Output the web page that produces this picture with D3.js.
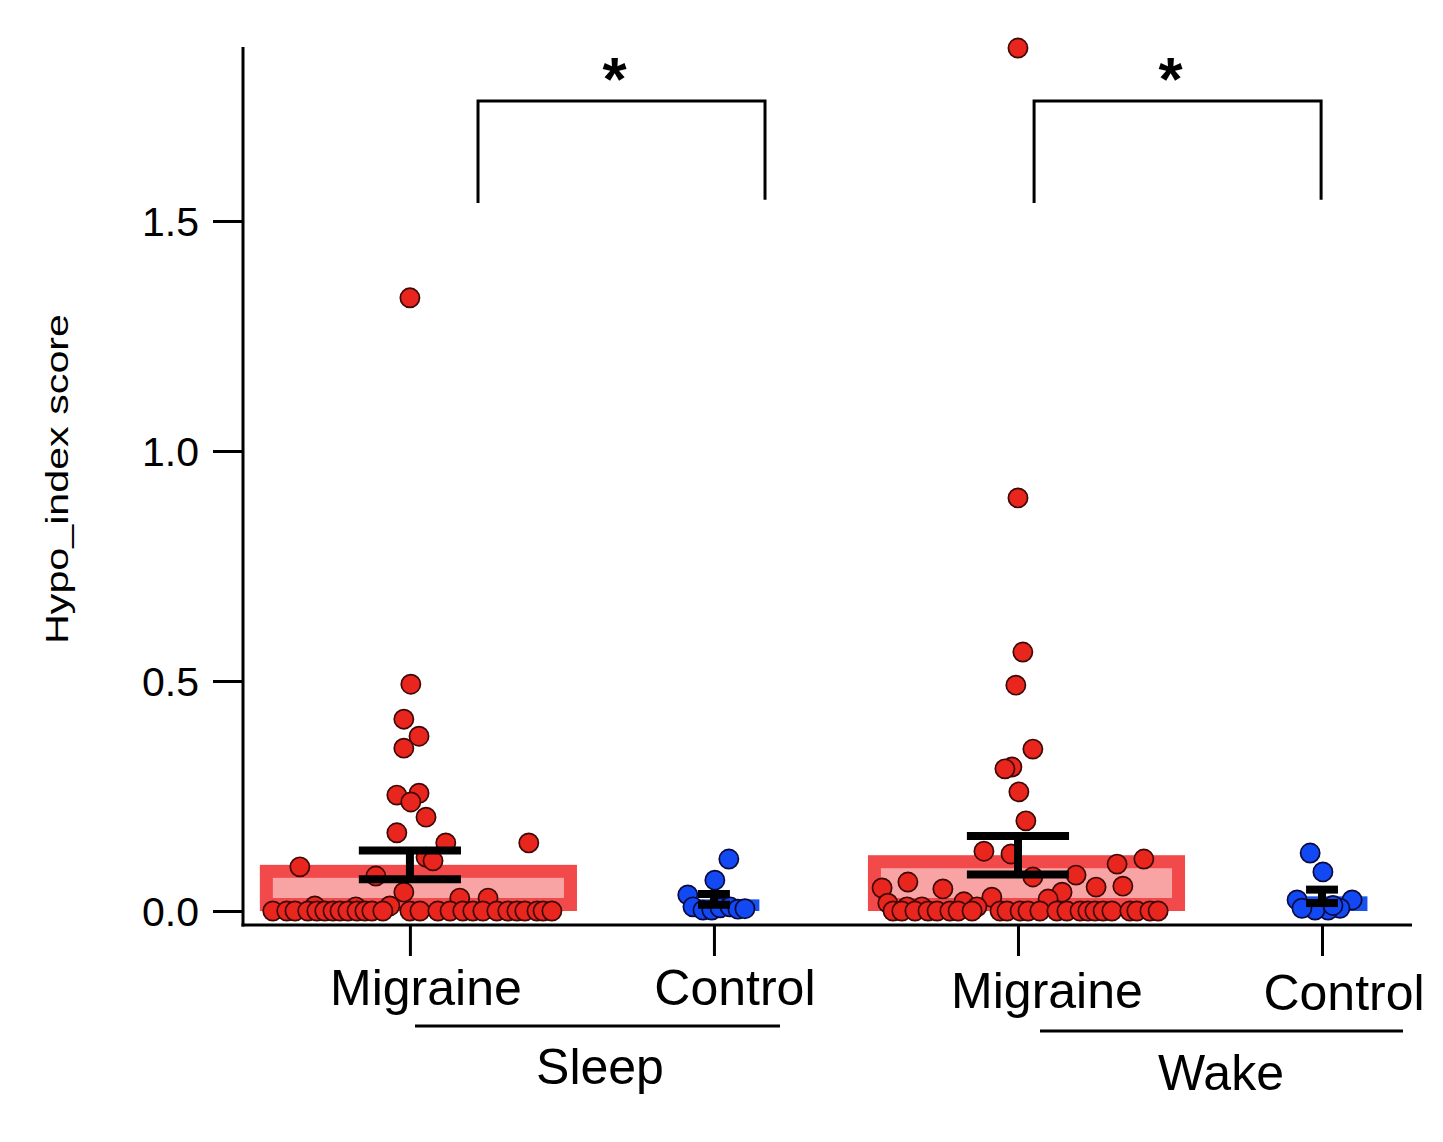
<!DOCTYPE html>
<html>
<head>
<meta charset="utf-8">
<script src="https://cdn.jsdelivr.net/npm/d3@7"></script>
<style>
  body { margin: 0; background: #fff; }
  text { font-family: "Liberation Sans", Arial, sans-serif; fill: #000; }
</style>
</head>
<body>
<svg id="chart" width="1443" height="1142"></svg>
<script>
// categories along x (0..3) and the two condition groups
var categories = ["Migraine", "Control", "Migraine", "Control"]
var groups = ["Sleep", "Wake"]
var yTicks = [0, 0.5, 1.0, 1.5]

// points per category: value + horizontal scatter (in category units)
var sleepMigraine = [1.333, 0.493, 0.417, 0.38, 0.354, 0.256, 0.252, 0.237, 0.204, 0.17, 0.148, 0.148, 0.117, 0.109, 0.096, 0.076, 0.041, 0.028, 0.028, 0.011, 0.009, 0.011,
    0, 0, 0, 0, 0, 0, 0, 0, 0, 0, 0, 0, 0, 0, 0, 0, 0, 0, 0, 0, 0, 0, 0, 0, 0, 0, 0]
var sleepMigraineJitter = [0, 0.003, -0.02, 0.03, -0.02, 0.03, -0.043, 0.003, 0.053, -0.043, 0.118, 0.391, 0.053, 0.076, -0.362, -0.112, -0.02, 0.164, 0.257, -0.313, -0.178, -0.066,
    -0.451, -0.405, -0.378, -0.336, -0.306, -0.28, -0.253, -0.23, -0.204, -0.174, -0.148, -0.125, -0.089, 0, 0.033, 0.092, 0.132, 0.174, 0.207, 0.24, 0.286, 0.322, 0.352, 0.378, 0.418, 0.438, 0.467]

var sleepControl = [0.113, 0.067, 0.035, 0.009, 0.002, 0.002, 0.007, 0.009, 0.004, 0.005]
var sleepControlJitter = [0.049, 0.003, -0.086, -0.069, -0.036, -0.007, 0.02, 0.053, 0.079, 0.102]

var wakeMigraine = [1.876, 0.898, 0.563, 0.491, 0.352, 0.313, 0.309, 0.259, 0.196, 0.13, 0.124, 0.113, 0.102, 0.078, 0.074, 0.063, 0.054, 0.052, 0.05, 0.048, 0.041, 0.03, 0.026, 0.02, 0.017, 0.009, 0.009, 0.009,
    0, 0, 0, 0, 0, 0, 0, 0, 0, 0, 0, 0, 0, 0, 0, 0, 0, 0, 0, 0, 0, 0, 0, 0]
var wakeMigraineJitter = [0, 0, 0.016, -0.007, 0.049, -0.02, -0.043, 0.003, 0.026, -0.112, -0.023, 0.414, 0.326, 0.191, 0.049, -0.362, 0.345, 0.257, -0.447, -0.247, 0.145, -0.086, 0.099, -0.178, -0.428, -0.316, -0.135, -0.365,
    -0.411, -0.382, -0.339, -0.296, -0.266, -0.224, -0.197, -0.151, -0.059, -0.036, 0.007, 0.033, 0.072, 0.128, 0.161, 0.204, 0.23, 0.253, 0.28, 0.309, 0.368, 0.391, 0.434, 0.461]

var wakeControl = [0.126, 0.085, 0.024, 0.024, 0.006, 0.002, 0.002, 0.006, 0.012]
var wakeControlJitter = [-0.039, 0.003, -0.082, 0.099, 0.059, 0.02, -0.023, -0.066, 0.036]

// significance brackets (x in category units, y in data units)
var bracketLeft = [0.224, 2.053]
var bracketRight = [1.168, 2.997]
var bracketTop = [1.761, 1.761]
var bracketLeftEnd = [1.539, 1.539]
var bracketRightEnd = [1.546, 1.546]
var bracketLabel = ["*", "*"]

var series = [
    { values: sleepMigraine, jitter: sleepMigraineJitter, kind: "migraine" },
    { values: sleepControl, jitter: sleepControlJitter, kind: "control" },
    { values: wakeMigraine, jitter: wakeMigraineJitter, kind: "migraine" },
    { values: wakeControl, jitter: wakeControlJitter, kind: "control" }
]

var style = {
    migraine: { dot: "#e8261e", dotStroke: "#3d0806", bar: "#f24a4a", inner: "#f8a4a4", barW: 1.043, capW: 0.336 },
    control:  { dot: "#1349f2", dotStroke: "#0a0a40", bar: "#1a52ee", inner: "#1a52ee", barW: 0.243, capW: 0.105 }
}

var svg = d3.select("#chart")
svg.append("rect").attr("width", 1443).attr("height", 1142).attr("fill", "#fff")

var x = d3.scaleLinear().domain([-0.549, 3.296]).range([243, 1412])
var y = d3.scaleLinear().domain([0, 1]).range([911, 451])
var unit = x(1) - x(0)
var barShift = 8.5

// bars (outer red frame + lighter inner)
series.forEach(function (s, i) {
    var st = style[s.kind]
    var m = d3.mean(s.values)
    var cx = x(i) + barShift
    var w = st.barW * unit
    svg.append("rect")
        .attr("x", cx - w / 2).attr("y", y(m))
        .attr("width", w).attr("height", y(0) - y(m))
        .attr("fill", st.bar)
    var inset = 13
    var ih = y(0) - y(m) - 2 * inset
    if (ih > 0 && s.kind === "migraine") {
        svg.append("rect")
            .attr("x", cx - w / 2 + inset).attr("y", y(m) + inset)
            .attr("width", w - 2 * inset).attr("height", ih)
            .attr("fill", st.inner)
    }
})

// dots
series.forEach(function (s, i) {
    var st = style[s.kind]
    svg.append("g").selectAll("circle")
        .data(s.values.map(function (v, k) { return { v: v, j: s.jitter[k] } }))
        .join("circle")
        .attr("cx", function (d) { return x(i + d.j) })
        .attr("cy", function (d) { return y(d.v) })
        .attr("r", 9.6)
        .attr("fill", st.dot)
        .attr("stroke", st.dotStroke)
        .attr("stroke-width", 1.7)
})

// mean +/- SEM
series.forEach(function (s, i) {
    var st = style[s.kind]
    var m = d3.mean(s.values)
    var sem = d3.deviation(s.values) / Math.sqrt(s.values.length)
    var cx = x(i)
    var hw = st.capW * unit / 2
    var g = svg.append("g").attr("stroke", "#000").attr("stroke-width", 8)
    g.append("line").attr("x1", cx).attr("x2", cx).attr("y1", y(m + sem)).attr("y2", y(m - sem))
    g.append("line").attr("x1", cx - hw).attr("x2", cx + hw).attr("y1", y(m + sem)).attr("y2", y(m + sem))
    g.append("line").attr("x1", cx - hw).attr("x2", cx + hw).attr("y1", y(m - sem)).attr("y2", y(m - sem))
})

// y axis
var yAxis = d3.axisLeft(y).tickValues(yTicks).tickSize(30).tickPadding(14).tickFormat(d3.format(".1f"))
var yg = svg.append("g").attr("transform", "translate(243,0)").call(yAxis)
yg.select(".domain").remove()
yg.selectAll(".tick line").attr("stroke", "#000").attr("stroke-width", 3)
yg.selectAll(".tick text")
    .attr("font-size", 41).attr("font-family", "Liberation Sans, Arial, sans-serif")
    .attr("dy", "0.36em").attr("fill", "#000")
svg.append("line").attr("x1", 243).attr("x2", 243).attr("y1", 47).attr("y2", 926.5)
    .attr("stroke", "#000").attr("stroke-width", 3)

// x axis
var xAxis = d3.axisBottom(x).tickValues([0, 1, 2, 3]).tickSize(31).tickFormat("")
var xg = svg.append("g").attr("transform", "translate(0,925)").call(xAxis)
xg.select(".domain").remove()
xg.selectAll(".tick line").attr("stroke", "#000").attr("stroke-width", 3)
svg.append("line").attr("x1", 241.5).attr("x2", 1412).attr("y1", 925).attr("y2", 925)
    .attr("stroke", "#000").attr("stroke-width", 3)

// category labels
var labelShift = [16, 21, 29, 22]
var labelBase = [1005, 1005, 1008, 1010]
categories.forEach(function (c, i) {
    svg.append("text")
        .attr("x", x(i) + labelShift[i]).attr("y", labelBase[i])
        .attr("text-anchor", "middle").attr("font-size", 50)
        .text(c)
})

// condition groups: underline + label
var groupLine = [[415, 780, 1026], [1040, 1403, 1031]]
var groupText = [[600, 1084], [1221, 1090]]
groups.forEach(function (gname, i) {
    svg.append("line")
        .attr("x1", groupLine[i][0]).attr("x2", groupLine[i][1])
        .attr("y1", groupLine[i][2]).attr("y2", groupLine[i][2])
        .attr("stroke", "#000").attr("stroke-width", 3)
    svg.append("text")
        .attr("x", groupText[i][0]).attr("y", groupText[i][1])
        .attr("text-anchor", "middle").attr("font-size", 50)
        .text(gname)
})

// y title
svg.append("text")
    .attr("transform", "translate(68,479) rotate(-90)")
    .attr("text-anchor", "middle").attr("font-size", 32)
    .attr("textLength", 330).attr("lengthAdjust", "spacingAndGlyphs")
    .text("Hypo_index score")

// brackets
bracketLeft.forEach(function (d, i) {
    var path = d3.path()
    path.moveTo(x(bracketLeft[i]), y(bracketLeftEnd[i]))
    path.lineTo(x(bracketLeft[i]), y(bracketTop[i]))
    path.lineTo(x(bracketRight[i]), y(bracketTop[i]))
    path.lineTo(x(bracketRight[i]), y(bracketRightEnd[i]))
    svg.append("path").attr("d", path.toString())
        .attr("fill", "none").attr("stroke", "#000").attr("stroke-width", 3)
    svg.append("text")
        .attr("x", (x(bracketLeft[i]) + x(bracketRight[i])) / 2 - 7)
        .attr("y", y(bracketTop[i]) - 1)
        .attr("text-anchor", "middle").attr("font-size", 62).attr("font-weight", "bold")
        .text(bracketLabel[i])
})
</script>
</body>
</html>
